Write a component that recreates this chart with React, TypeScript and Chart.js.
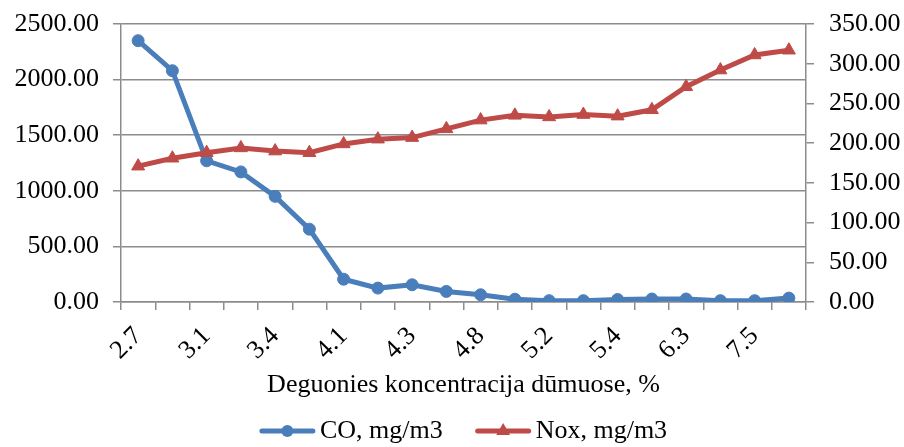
import React, { useEffect, useRef } from 'react';
import { Chart, registerables } from 'chart.js';

Chart.register(...registerables);

// Oxygen concentration categories (only every other label is shown on the axis)
const categories = ['2.7', '2.9', '3.1', '3.3', '3.4', '3.8', '4.1', '4.2', '4.3', '4.5', '4.8', '5.0', '5.2', '5.3', '5.4', '5.8', '6.3', '6.9', '7.5', '7.9'];
const coValues = [2350, 2080, 1270, 1170, 950, 655, 205, 125, 155, 95, 65, 25, 12, 12, 22, 27, 27, 12, 12, 35];
const noxValues = [171, 181, 188, 194, 190, 188, 199, 205, 207, 218, 229, 235, 233, 236, 234, 242, 271, 292, 311, 317];

const leftMax = 2500;
const leftStep = 500;
const rightMax = 350;
const rightStep = 50;

const xTitle = 'Deguonies koncentracija dūmuose, %';
const coLabel = 'CO, mg/m3';
const noxLabel = 'Nox, mg/m3';

const FONT = '"Liberation Serif", "Times New Roman", serif';
const FS = 26;
const BLUE = '#4a7ebb';
const RED = '#be4b48';
const GRID = '#8c8c8c';

const lineLegend = {
  id: 'lineLegend',
  afterDraw(chart: any) {
    const ctx = chart.ctx as CanvasRenderingContext2D;
    const ds = chart.data.datasets as any[];
    const order = [0, 1];
    ctx.save();
    ctx.font = `${FS}px ${FONT}`;
    const lineW = 55;
    const gapText = 5;
    const gapItem = 33;
    const widths = order.map((i) => lineW + gapText + ctx.measureText(ds[i].label).width);
    const total = widths.reduce((a, b) => a + b, 0) + gapItem * (order.length - 1);
    const area = chart.chartArea;
    let x = (area.left + area.right) / 2 - total / 2;
    const y = chart.height - 16;
    order.forEach((i, k) => {
      const d = ds[i];
      ctx.strokeStyle = d.borderColor;
      ctx.fillStyle = d.borderColor;
      ctx.lineWidth = 5;
      ctx.lineCap = 'round';
      ctx.beginPath();
      ctx.moveTo(x + 2, y);
      ctx.lineTo(x + lineW - 2, y);
      ctx.stroke();
      const cx = x + lineW / 2;
      ctx.beginPath();
      if (d.pointStyle === 'triangle') {
        const r = 8;
        ctx.moveTo(cx, y - r);
        ctx.lineTo(cx + r * 0.866, y + r * 0.5);
        ctx.lineTo(cx - r * 0.866, y + r * 0.5);
        ctx.closePath();
      } else {
        ctx.arc(cx, y, 6, 0, Math.PI * 2);
      }
      ctx.fill();
      ctx.fillStyle = '#000';
      ctx.textBaseline = 'middle';
      ctx.textAlign = 'left';
      ctx.fillText(d.label, x + lineW + gapText, y);
      x += widths[k] + gapItem;
    });
    ctx.restore();
  },
};

export default function App() {
  const ref = useRef<HTMLCanvasElement | null>(null);

  useEffect(() => {
    if (!ref.current) return;
    Chart.defaults.font.family = FONT;
    Chart.defaults.font.size = FS;
    Chart.defaults.color = '#000';

    const chart = new Chart(ref.current, {
      type: 'line',
      data: {
        labels: categories,
        datasets: [
          {
            label: coLabel,
            data: coValues,
            yAxisID: 'y',
            borderColor: BLUE,
            backgroundColor: BLUE,
            borderWidth: 5,
            pointStyle: 'circle',
            pointRadius: 6,
            pointBorderWidth: 1,
            pointBackgroundColor: BLUE,
            pointBorderColor: BLUE,
            tension: 0,
            order: 1,
          } as any,
          {
            label: noxLabel,
            data: noxValues,
            yAxisID: 'y1',
            borderColor: RED,
            backgroundColor: RED,
            borderWidth: 5,
            pointStyle: 'triangle',
            pointRadius: 7.5,
            pointBorderWidth: 1,
            pointBackgroundColor: RED,
            pointBorderColor: RED,
            tension: 0,
            order: 0,
          } as any,
        ],
      },
      options: {
        animation: false,
        responsive: true,
        maintainAspectRatio: false,
        layout: { padding: { top: 24, left: 0, right: 0, bottom: 46 } },
        plugins: {
          legend: { display: false },
          tooltip: { enabled: false },
        },
        scales: {
          x: {
            type: 'category',
            offset: true,
            grid: {
              offset: true,
              drawOnChartArea: false,
              drawTicks: true,
              tickLength: 8,
              color: GRID,
              lineWidth: 1.5,
            },
            border: { display: true, color: GRID, width: 1.5 },
            ticks: {
              autoSkip: false,
              minRotation: 45,
              maxRotation: 45,
              padding: 11,
              font: { size: FS, family: FONT },
              color: '#000',
              callback: (_v: any, i: number) => (i % 2 === 0 ? categories[i] : ''),
            },
            title: {
              display: true,
              text: xTitle,
              font: { size: FS, family: FONT },
              color: '#000',
              padding: { top: 0, bottom: 0 },
            },
            afterFit: (s: any) => {
              s.height = 99;
            },
          },
          y: {
            position: 'left',
            min: 0,
            max: leftMax,
            grid: {
              drawOnChartArea: true,
              drawTicks: true,
              tickLength: 8,
              color: GRID,
              lineWidth: 1.5,
            },
            border: { display: true, color: GRID, width: 1.5 },
            ticks: {
              stepSize: leftStep,
              padding: 14,
              font: { size: FS, family: FONT },
              color: '#000',
              callback: (v: any) => Number(v).toFixed(2),
            },
            afterFit: (s: any) => {
              s.width = 121;
              s.paddingTop = 0;
              s.paddingBottom = 0;
            },
          },
          y1: {
            position: 'right',
            min: 0,
            max: rightMax,
            grid: {
              drawOnChartArea: false,
              drawTicks: true,
              tickLength: 8,
              color: GRID,
              lineWidth: 1.5,
            },
            border: { display: true, color: GRID, width: 1.5 },
            ticks: {
              stepSize: rightStep,
              padding: 15,
              font: { size: FS, family: FONT },
              color: '#000',
              callback: (v: any) => Number(v).toFixed(2),
            },
            afterFit: (s: any) => {
              s.width = 98;
              s.paddingTop = 0;
              s.paddingBottom = 0;
            },
          },
        },
      },
      plugins: [lineLegend],
    });
    return () => chart.destroy();
  }, []);

  return (
    <div style={{ position: 'absolute', left: 0, top: 0, width: 904, height: 447, background: '#fff' }}>
      <canvas ref={ref} />
    </div>
  );
}
